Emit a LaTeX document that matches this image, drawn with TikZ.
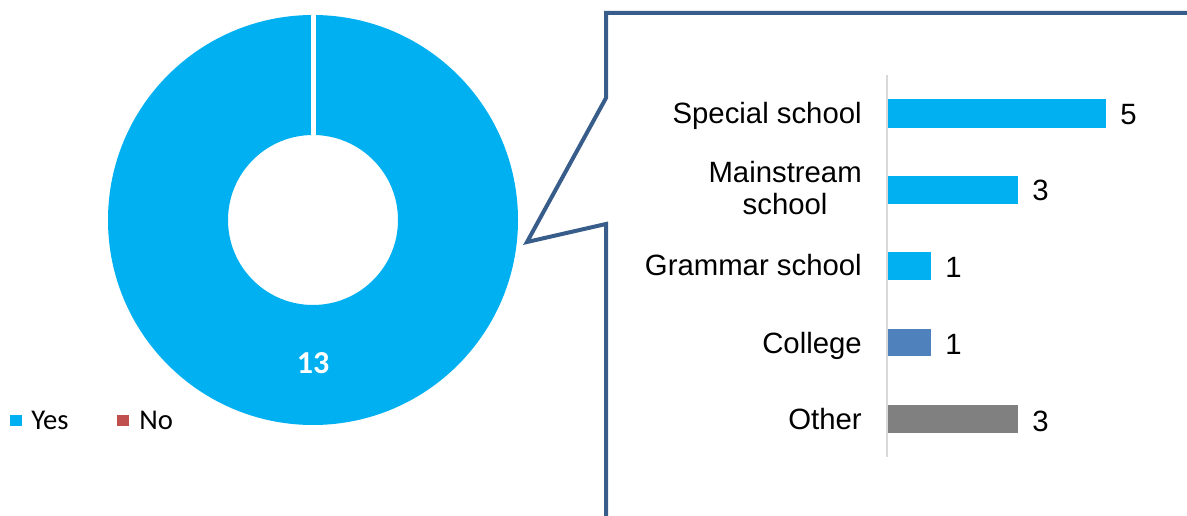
\documentclass[tikz,border=0pt]{standalone}
\usepackage{fontspec}
\setmainfont{Liberation Sans}
\newfontfamily\calfont{Carlito}
\definecolor{yesblue}{HTML}{00B0F0}
\definecolor{nored}{HTML}{C0504D}
\definecolor{collegeblue}{HTML}{4F81BD}
\definecolor{othergray}{HTML}{808080}
\definecolor{calloutblue}{HTML}{385D8A}
\definecolor{axisgray}{HTML}{D9D9D9}
\begin{document}
\begin{tikzpicture}[x=0.75pt,y=-0.75pt,
  cat/.style={anchor=base east,inner sep=0pt,font=\fontsize{22}{24}\selectfont,align=center},
  val/.style={anchor=base west,inner sep=0pt,font=\fontsize{22}{24}\selectfont},
  barfill/.style={fill=#1,draw=none},
  callout/.style={draw=calloutblue,line width=3pt},
  legtext/.style={anchor=base west,inner sep=0pt,font=\calfont\fontsize{21.5}{24}\selectfont},
  legbox/.style={fill=#1,draw=none}]
\useasboundingbox (0,0) rectangle (1187,516);
% donut
\coordinate (donut) at (313,220);
\fill[yesblue,even odd rule] (donut) circle[radius=205] (donut) circle[radius=85];
\fill[white] (311,13) rectangle (316,136);
\node[inner sep=0pt,anchor=base,text=white,font=\calfont\bfseries\fontsize{24}{26}\selectfont] (total) at (313,373) {13};
% legend
\fill[legbox=yesblue] (10,415) rectangle (22,426);
\node[legtext] (yes) at (31,429) {Yes};
\fill[legbox=nored] (117,415) rectangle (129,426);
\node[legtext] (no) at (139,429) {No};
% callout
\coordinate (c1) at (1187,13);
\coordinate (c2) at (606,13);
\coordinate (c3) at (606,98);
\coordinate (c4) at (527,242);
\coordinate (c5) at (606,224);
\coordinate (c6) at (606,516);
\draw[callout] (c1) -- (c2) -- (c3) -- (c4) -- (c5) -- (c6);
% axis
\coordinate (axtop) at (887,75);
\coordinate (axbot) at (887,457);
\draw[axisgray,line width=1.5pt] (axtop) -- (axbot);
% bars
\fill[barfill=yesblue] (888,99) rectangle (1106,128);
\fill[barfill=yesblue] (888,176) rectangle (1018,204);
\fill[barfill=yesblue] (888,252) rectangle (931,280);
\fill[barfill=collegeblue] (888,329) rectangle (931,356);
\fill[barfill=othergray] (888,405) rectangle (1018,433);
% category labels
\node[cat] (l1) at (862,124) {Special school};
\node[cat] (l2) at (862,215) {Mainstream\\school};
\node[cat] (l3) at (862,276) {Grammar school};
\node[cat] (l4) at (862,353) {College};
\node[cat] (l5) at (862,429) {Other};
% values
\node[val] (v1) at (1120,125) {5};
\node[val] (v2) at (1032,201) {3};
\node[val] (v3) at (945,277) {1};
\node[val] (v4) at (945,354) {1};
\node[val] (v5) at (1032,431) {3};
\end{tikzpicture}
\end{document}
